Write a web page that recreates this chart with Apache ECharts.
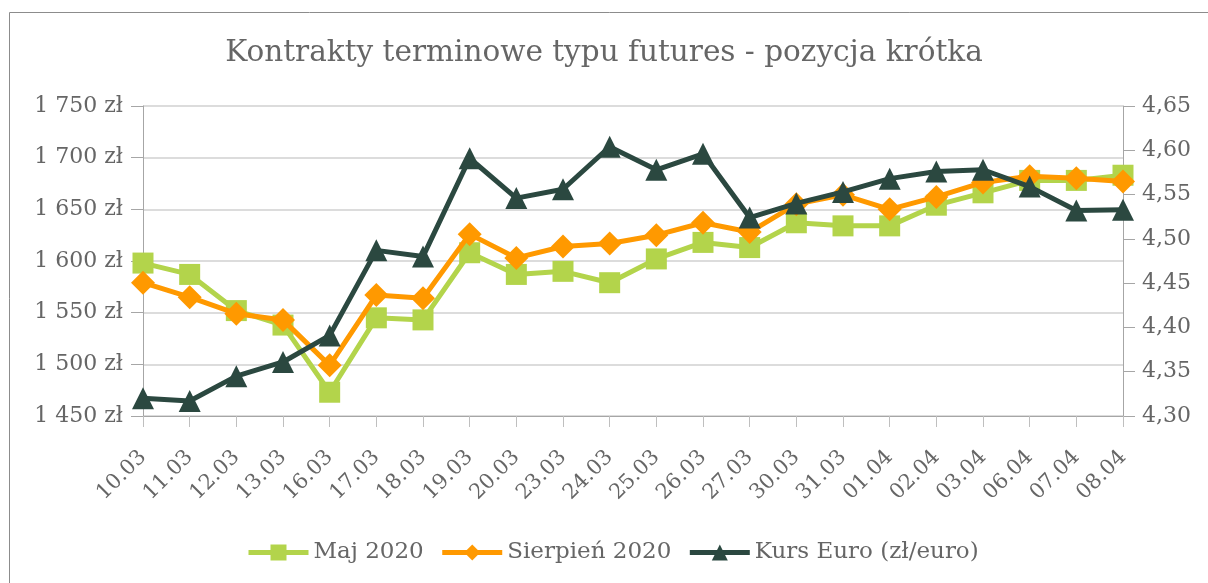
<!DOCTYPE html>
<html>
<head>
<meta charset="utf-8">
<script src="https://cdn.jsdelivr.net/npm/echarts@6/dist/echarts.min.js"></script>
<style>
html,body{margin:0;padding:0;background:#fff;}
#chart{width:1208px;height:583px;}
</style>
</head>
<body>
<div id="chart"></div>
<script>
// dane
var dates = ['10.03','11.03','12.03','13.03','16.03','17.03','18.03','19.03','20.03','23.03','24.03',
    '25.03','26.03','27.03','30.03','31.03','01.04','02.04','03.04','06.04','07.04','08.04'];
var maj2020 = [1598,1587,1552,1538,1473,1545,1543,1608,1587,1590,1579,
    1602,1618,1613,1637,1634,1634,1654,1666,1678,1678,1683];
var sierpien2020 = [1579,1565,1549,1543,1499,1567,1564,1626,1603,1614,1617,
    1625,1637,1628,1655,1664,1650,1662,1676,1682,1680,1677];
var kursEuro = [4.320,4.317,4.345,4.361,4.391,4.487,4.480,4.591,4.546,4.556,4.604,
    4.578,4.596,4.524,4.540,4.553,4.568,4.576,4.578,4.559,4.532,4.533];
var seriesNames = ['Maj 2020','Sierpień 2020','Kurs Euro (zł/euro)'];

var font = 'DejaVu Serif';
var txt = '#666666';

var myChart = echarts.init(document.getElementById('chart'));
var option = {
    backgroundColor: '#fff',
    animation: false,
    textStyle: {fontFamily: font},
    graphic: [{
        type: 'rect',
        shape: {x: 9.5, y: 12.5, width: 1220, height: 600},
        style: {fill: 'none', stroke: '#8c8c8c', lineWidth: 1}
    }],
    title: {
        text: 'Kontrakty terminowe typu futures - pozycja krótka',
        left: 'center',
        top: 33,
        textStyle: {fontFamily: font, fontSize: 29.5, fontWeight: 'normal', color: txt}
    },
    legend: {
        bottom: 14,
        left: 241,
        itemWidth: 60,
        itemHeight: 20,
        itemGap: 16,
        lineStyle: {width: 5},
        textStyle: {fontFamily: font, fontSize: 23, color: txt},
        data: seriesNames
    },
    grid: {left: 143, right: 85, top: 106, bottom: 167},
    xAxis: {
        type: 'category',
        boundaryGap: false,
        data: dates,
        axisLine: {lineStyle: {color: '#a6a6a6', width: 1}},
        axisTick: {show: true, length: 11, alignWithLabel: true, lineStyle: {color: '#bfbfbf'}},
        axisLabel: {rotate: 45, interval: 0, fontFamily: font, fontSize: 21, color: txt, margin: 38}
    },
    yAxis: [{
        type: 'value',
        min: 1450, max: 1750, interval: 50,
        axisLine: {show: true, lineStyle: {color: '#a6a6a6'}},
        axisTick: {show: true, length: 12, lineStyle: {color: '#a6a6a6'}},
        splitLine: {lineStyle: {color: '#d0d0d0', width: 1.5}},
        axisLabel: {
            fontFamily: font, fontSize: 22, color: txt, margin: 20,
            formatter: function (v) {
                var s = String(v);
                return s.charAt(0) + ' ' + s.slice(1) + ' zł';
            }
        }
    }, {
        type: 'value',
        min: 4.30, max: 4.65, interval: 0.05,
        position: 'right',
        axisLine: {show: true, lineStyle: {color: '#a6a6a6'}},
        axisTick: {show: true, length: 12, lineStyle: {color: '#a6a6a6'}},
        splitLine: {show: false},
        axisLabel: {
            fontFamily: font, fontSize: 22, color: txt, margin: 19,
            formatter: function (v) { return v.toFixed(2).replace('.', ','); }
        }
    }],
    series: [{
        name: seriesNames[0],
        type: 'line',
        yAxisIndex: 0,
        data: maj2020,
        symbol: 'rect',
        symbolSize: 21,
        lineStyle: {color: '#b3d44b', width: 5},
        itemStyle: {color: '#b3d44b'},
        z: 2
    }, {
        name: seriesNames[1],
        type: 'line',
        yAxisIndex: 0,
        data: sierpien2020,
        symbol: 'diamond',
        symbolSize: 24,
        lineStyle: {color: '#ff9900', width: 5},
        itemStyle: {color: '#ff9900'},
        z: 3
    }, {
        name: seriesNames[2],
        type: 'line',
        yAxisIndex: 1,
        data: kursEuro,
        symbol: 'triangle',
        symbolSize: 22,
        lineStyle: {color: '#2b4840', width: 5},
        itemStyle: {color: '#2b4840'},
        z: 4
    }]
};
myChart.setOption(option);
window.addEventListener('resize', function () {
    myChart.resize();
});
</script>
</body>
</html>
